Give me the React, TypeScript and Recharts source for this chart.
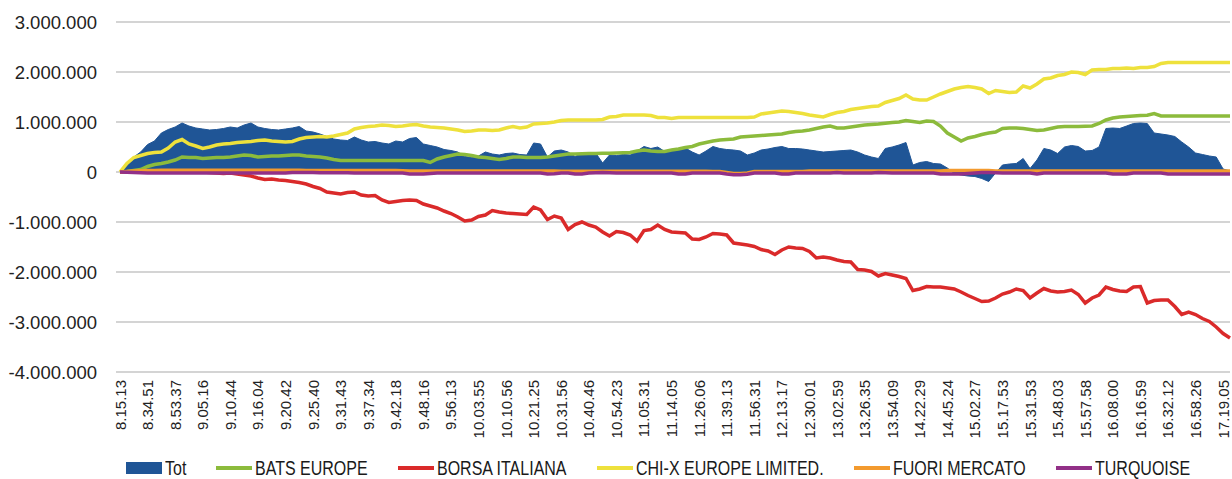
import React from "react";
import {
  ComposedChart,
  Area,
  Line,
  XAxis,
  YAxis,
  CartesianGrid,
  Legend,
} from "recharts";

// tick labels shown every 4th point
const timeLabels = [
  "8.15.13", "8.34.51", "8.53.37", "9.05.16", "9.10.44", "9.16.04", "9.20.42",
  "9.25.40", "9.31.43", "9.37.34", "9.42.18", "9.48.16", "9.56.13", "10.03.55",
  "10.10.56", "10.21.25", "10.31.56", "10.40.46", "10.54.23", "11.05.31",
  "11.14.05", "11.26.06", "11.39.13", "11.56.31", "12.13.17", "12.30.01",
  "13.02.59", "13.26.35", "13.54.09", "14.22.29", "14.45.24", "15.02.27",
  "15.17.53", "15.31.53", "15.48.03", "15.57.58", "16.08.00", "16.16.59",
  "16.32.12", "16.58.26", "17.19.05",
];

// values in thousands
const tot = [
  0, 150, 300, 400, 550, 620, 780, 850, 900, 980,
  920, 880, 860, 840, 850, 870, 900, 880, 940, 980,
  900, 870, 850, 840, 860, 880, 910, 820, 800, 760,
  710, 660, 640, 630, 700, 640, 600, 610, 580, 560,
  620, 600, 670, 690, 560, 530, 500, 450, 430, 400,
  310, 290, 320, 400, 360, 340, 370, 380, 350, 340,
  580, 560, 300, 420, 440, 400, 310, 370, 360, 380,
  180, 340, 330, 350, 340, 420, 510, 470, 500, 410,
  440, 470, 480, 400, 340, 420, 510, 470, 450, 440,
  420, 340, 380, 440, 460, 490, 510, 470, 470, 460,
  440, 420, 400, 410, 420, 430, 440, 400, 340, 300,
  270, 470, 500, 540, 590, 140, 190, 210, 170, 160,
  80, -30, -60, -80, -90, -130, -190, -20, 140, 160,
  170, 270, 70, 240, 470, 440, 370, 500, 530, 510,
  420, 430, 500, 870, 880, 870, 920, 970, 980, 970,
  780, 760, 740, 710, 600, 500, 380, 350, 320, 300,
  60, 20,
];

const bats = [
  0, 10, 30, 50, 110, 150, 170, 200, 240, 300,
  290, 290, 270, 280, 290, 290, 300, 320, 340, 330,
  300, 310, 320, 320, 330, 340, 340, 320, 310, 300,
  280, 250, 230, 230, 230, 230, 230, 230, 230, 230,
  230, 230, 230, 230, 230, 190, 260, 300, 330, 360,
  350, 330, 300, 290, 270, 250, 270, 300, 300, 290,
  290, 290, 300, 320, 340, 360, 360, 365, 370, 370,
  375, 375, 380, 385, 390, 420, 440, 420, 410, 410,
  440, 460, 490, 510, 560, 590, 620, 640, 650, 660,
  700, 710, 720, 730, 740, 750, 760, 790, 810, 820,
  840, 870, 900, 920, 880, 880, 900, 920, 940, 950,
  960, 975, 990, 1000, 1030, 1010, 990, 1020, 1010, 920,
  780, 700, 620, 680, 710, 750, 780, 800, 870, 880,
  880, 870, 850, 830, 840, 870, 900, 910, 910, 910,
  915, 920, 970, 1040, 1080, 1100, 1110, 1120, 1130, 1135,
  1170, 1120, 1120, 1120, 1120, 1120, 1120, 1120, 1120, 1120,
  1120, 1120,
];

const borsa = [
  0, 0, 0, 0, 0, 0, 0, 0, 0, 0,
  0, -5, 0, -10, -20, -30, -20, -40, -60, -80,
  -120, -150, -140, -160, -170, -190, -210, -240, -290, -330,
  -400, -420, -440, -410, -400, -460, -480, -470, -560, -610,
  -590, -570, -560, -570, -640, -680, -720, -780, -830, -900,
  -980, -960, -890, -860, -770, -800, -820, -830, -840, -850,
  -700, -760, -950, -880, -920, -1150, -1050, -1000, -1060, -1100,
  -1200, -1280, -1190, -1210, -1260, -1380, -1170, -1150, -1060, -1150,
  -1200, -1210, -1220, -1340, -1350, -1300, -1230, -1240, -1260, -1420,
  -1440, -1460, -1490, -1550, -1580, -1650, -1560, -1500, -1520, -1530,
  -1590, -1720, -1700, -1720, -1760, -1790, -1800, -1950, -1960, -1990,
  -2080, -2030, -2060, -2090, -2130, -2370, -2340, -2290, -2300, -2300,
  -2320, -2340, -2400, -2470, -2530, -2590, -2580, -2520, -2440, -2400,
  -2340, -2370, -2520, -2420, -2330, -2380, -2400, -2390, -2360, -2450,
  -2620, -2520, -2460, -2300, -2350, -2380, -2390, -2300, -2290, -2620,
  -2570, -2560, -2560, -2690, -2850, -2800, -2850, -2930, -2990, -3100,
  -3230, -3320,
];

const chix = [
  0, 170, 290, 330, 370, 390, 400, 480, 600, 650,
  560, 520, 470, 500, 540, 560, 570, 590, 600, 610,
  630, 640, 620, 610, 600, 610, 660, 690, 700, 710,
  700, 720, 750, 780, 860, 890, 910, 920, 940, 930,
  910, 920, 940, 950, 920, 900, 890, 880, 860, 840,
  810, 820, 840, 840, 830, 840, 880, 910, 880, 900,
  960, 970, 980, 1000, 1030, 1040, 1040, 1040, 1040, 1040,
  1050, 1100, 1110, 1140, 1140, 1140, 1140, 1130, 1090, 1090,
  1070, 1090, 1090, 1090, 1090, 1090, 1090, 1090, 1090, 1090,
  1090, 1090, 1100, 1160, 1180, 1200, 1220, 1210, 1190, 1170,
  1140, 1120, 1100, 1150, 1190, 1210, 1250, 1270, 1290, 1310,
  1320, 1390, 1430, 1470, 1540, 1460, 1440, 1440, 1500, 1560,
  1610, 1660, 1690, 1710, 1690, 1660, 1570, 1630, 1610, 1590,
  1600, 1720, 1680, 1760, 1860, 1880, 1930, 1950, 2000, 1990,
  1950, 2040, 2050, 2050, 2070, 2070, 2080, 2070, 2090, 2090,
  2110, 2170, 2190, 2190, 2190, 2190, 2190, 2190, 2190, 2190,
  2190, 2190,
];

const fuori = [
  0, 10, 20, 25, 30, 30, 35, 35, 35, 35,
  35, 35, 35, 35, 35, 35, 35, 35, 35, 35,
  35, 35, 35, 35, 35, 35, 35, 30, 30, 30,
  30, 30, 30, 30, 30, 30, 30, 30, 30, 30,
  30, 25, 20, 20, 20, 20, 20, 20, 20, 20,
  20, 20, 20, 20, 20, 20, 20, 20, 20, 20,
  20, 20, 20, 20, 15, 15, 15, 15, 15, 15,
  15, 15, 15, 15, 15, 15, 15, 15, 15, 15,
  15, 15, 15, 15, 15, 15, 10, 10, -10, -30,
  -30, -20, 10, 10, 10, 10, 10, 10, 10, 10,
  20, 20, 20, 20, 20, 20, 20, 20, 20, 20,
  20, 20, 20, 20, 20, 20, 20, 20, 20, 20,
  30, 30, 30, 30, 30, 30, 30, 20, 20, 20,
  20, 20, 20, 20, 20, 20, 20, 20, 20, 20,
  20, 20, 20, 20, 20, 20, 20, 20, 20, 20,
  20, 20, 20, 20, 20, 20, 20, 20, 20, 20,
  20, 20,
];

const turquoise = [
  0, -5, -10, -15, -20, -20, -20, -20, -20, -20,
  -20, -20, -20, -20, -20, -20, -20, -20, -20, -20,
  -20, -20, -20, -20, -20, -10, -10, -10, -10, -15,
  -15, -15, -15, -15, -20, -20, -20, -20, -20, -20,
  -20, -20, -40, -40, -40, -30, -20, -20, -20, -20,
  -20, -20, -20, -20, -20, -20, -20, -20, -20, -20,
  -20, -20, -40, -35, -20, -20, -40, -40, -20, -15,
  -10, -15, -20, -20, -20, -20, -20, -20, -20, -20,
  -20, -40, -40, -20, -20, -20, -20, -20, -40, -55,
  -55, -45, -20, -20, -20, -20, -40, -40, -20, -20,
  -20, -20, -20, -20, -10, -20, -20, -20, -20, -20,
  -10, -15, -20, -20, -20, -20, -20, -20, -20, -40,
  -40, -40, -40, -30, -20, -10, -10, -15, -20, -20,
  -20, -20, -20, -40, -20, -20, -20, -20, -20, -20,
  -20, -20, -20, -20, -40, -40, -40, -20, -20, -20,
  -20, -20, -40, -40, -40, -40, -40, -40, -40, -40,
  -40, -40,
];

const yTicks = [-4000, -3000, -2000, -1000, 0, 1000, 2000, 3000];

const data = tot.map((v, i) => ({
  idx: i,
  tot: v,
  bats: bats[i],
  borsa: borsa[i],
  chix: chix[i],
  fuori: fuori[i],
  turquoise: turquoise[i],
}));

const series = [
  { key: "tot", name: "Tot", color: "#1F5596", box: true },
  { key: "bats", name: "BATS EUROPE", color: "#8CBB3C" },
  { key: "borsa", name: "BORSA ITALIANA", color: "#DA2A2A" },
  { key: "chix", name: "CHI-X EUROPE LIMITED.", color: "#EEE13C" },
  { key: "fuori", name: "FUORI MERCATO", color: "#F39A2E" },
  { key: "turquoise", name: "TURQUOISE", color: "#923087" },
];

const LEGEND_FONT = "20px 'Liberation Sans'";
const SQUEEZE = 0.8; // reference legend uses a condensed face

const fmt = (v: number) => {
  if (v === 0) return "0";
  const s = String(Math.abs(v * 1000)).replace(/\B(?=(\d{3})+(?!\d))/g, ".");
  return (v < 0 ? "-" : "") + s;
};

const textWidth = (t: string) => {
  const ctx = document.createElement("canvas").getContext("2d");
  if (!ctx) return t.length * 10;
  ctx.font = LEGEND_FONT;
  return ctx.measureText(t).width;
};

const YTick = (props: any) => {
  const { x, y, payload } = props;
  return (
    <text
      x={x}
      y={y}
      textAnchor="end"
      dominantBaseline="central"
      fontFamily="'Liberation Sans', Arial, sans-serif"
      fontSize={18.5}
      fill="#222"
    >
      {fmt(payload.value)}
    </text>
  );
};

const XTick = (props: any) => {
  const { x, y, payload } = props;
  return (
    <text
      x={x}
      y={y}
      transform={`rotate(-90 ${x} ${y})`}
      textAnchor="end"
      dominantBaseline="central"
      fontFamily="'Liberation Sans', Arial, sans-serif"
      fontSize={15}
      fill="#222"
    >
      {timeLabels[payload.value / 4]}
    </text>
  );
};

const LegendContent = () => (
  <div
    style={{
      display: "flex",
      alignItems: "flex-start",
      paddingLeft: 126,
      paddingTop: 10,
      height: 17,
      font: LEGEND_FONT,
      color: "#1a1a1a",
    }}
  >
    {series.map((s) => {
      const w = textWidth(s.name);
      return (
        <div
          key={s.key}
          style={{ display: "flex", alignItems: "center", height: 12, marginRight: 30 }}
        >
          <span
            style={{
              display: "inline-block",
              width: 36,
              height: s.box ? 12 : 4,
              background: s.color,
              marginRight: 3,
            }}
          />
          <span
            style={{
              display: "inline-block",
              width: w * SQUEEZE,
              lineHeight: "12px",
              whiteSpace: "nowrap",
            }}
          >
            <span
              style={{
                display: "inline-block",
                transform: `scaleX(${SQUEEZE})`,
                transformOrigin: "left center",
              }}
            >
              {s.name}
            </span>
          </span>
        </div>
      );
    })}
  </div>
);

export default function App() {
  return (
    <div>
      <style>{`body{margin:0}`}</style>
      <ComposedChart
        width={1232}
        height={479}
        data={data}
        margin={{ top: 22, right: 2, left: 0, bottom: 0 }}
      >
        <CartesianGrid vertical={false} stroke="#c6c6c6" strokeWidth={1.3} />
        <XAxis
          dataKey="idx"
          interval={3}
          tick={<XTick />}
          tickLine={false}
          axisLine={false}
          height={80}
          padding={{ left: 4, right: 0 }}
        />
        <YAxis
          domain={[-4000, 3000]}
          ticks={yTicks}
          tick={<YTick />}
          tickLine={false}
          axisLine={false}
          tickSize={0}
          tickMargin={19}
          width={116}
        />
        <Legend
          verticalAlign="bottom"
          content={<LegendContent />}
          wrapperStyle={{ left: 0, width: 1232, height: 27 }}
        />
        <Area
          type="linear"
          dataKey="tot"
          name="Tot"
          stroke="#1F5596"
          strokeWidth={1}
          fill="#1F5596"
          fillOpacity={1}
          isAnimationActive={false}
        />
        {series.slice(1).map((s) => (
          <Line
            key={s.key}
            type="linear"
            dataKey={s.key}
            name={s.name}
            stroke={s.color}
            strokeWidth={3.5}
            dot={false}
            isAnimationActive={false}
          />
        ))}
      </ComposedChart>
    </div>
  );
}
